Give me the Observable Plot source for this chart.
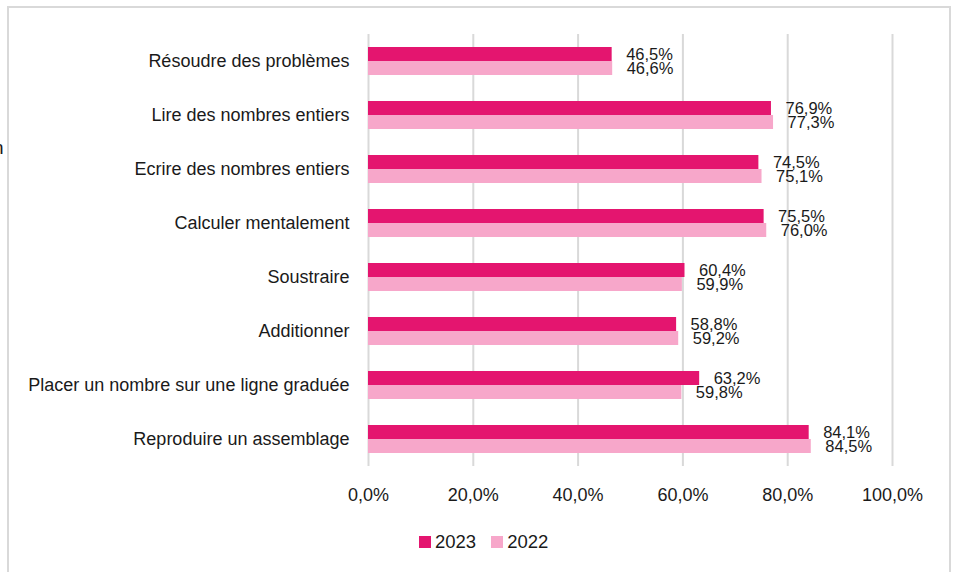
<!DOCTYPE html>
<html>
<head>
<meta charset="utf-8">
<script src="https://cdn.jsdelivr.net/npm/d3@7"></script>
<script src="https://cdn.jsdelivr.net/npm/@observablehq/plot@0.6"></script>
<style>
  html, body { margin: 0; padding: 0; background: #fff; overflow: hidden; }
  body { width: 954px; height: 572px; position: relative;
         font-family: "Liberation Sans", Arial, sans-serif; color: #1a1a1a; }
  #frame { position: absolute; left: 7px; top: 6px; width: 944px; height: 700px;
           border: 2px solid #d9d9d9; box-sizing: border-box; }
  #chart { position: absolute; left: 0; top: 0; }
  #stray { position: absolute; left: -7px; top: 137px; font-size: 19px; }
  #legend { position: absolute; left: 419px; top: 531px; display: flex; align-items: center; font-size: 18.5px; }
  .item { display: flex; align-items: center; margin-right: 15px; }
  .sw { width: 12px; height: 12px; margin-right: 4px; }
</style>
</head>
<body>
<div id="frame"></div>
<div id="stray">n</div>
<div id="chart"></div>
<div id="legend"></div>
<script>
const categories = [
  "Résoudre des problèmes",
  "Lire des nombres entiers",
  "Ecrire des nombres entiers",
  "Calculer mentalement",
  "Soustraire",
  "Additionner",
  "Placer un nombre sur une ligne graduée",
  "Reproduire un assemblage"
];
const values2023 = [46.5, 76.9, 74.5, 75.5, 60.4, 58.8, 63.2, 84.1];
const values2022 = [46.6, 77.3, 75.1, 76.0, 59.9, 59.2, 59.8, 84.5];
const years = ["2023", "2022"];
const colors = ["#E4156F", "#F7A7CA"];
const xTicks = [0, 20, 40, 60, 80, 100];

const fmt = d => d.toFixed(1).replace(".", ",") + "%";
const rows2023 = categories.map((c, i) => ({cat: c, year: "2023", value: values2023[i]}));
const rows2022 = categories.map((c, i) => ({cat: c, year: "2022", value: values2022[i]}));

const chart = Plot.plot({
  width: 954,
  height: 515,
  marginLeft: 368,
  marginRight: 62,
  marginTop: 34,
  marginBottom: 49,
  style: {
    fontFamily: '"Liberation Sans", Arial, sans-serif',
    fontSize: "18px",
    color: "#1a1a1a",
    background: "transparent",
    overflow: "visible"
  },
  x: {domain: [0, 100], ticks: xTicks, tickFormat: fmt, tickSize: 0, tickPadding: 22, label: null},
  y: {domain: categories, padding: 0, tickSize: 0, tickPadding: 19, label: null},
  marks: [
    Plot.ruleX(xTicks, {stroke: "#d9d9d9", strokeWidth: 2}),
    Plot.barX(rows2023, {x: "value", y: "cat", fill: colors[0], insetTop: 13, insetBottom: 27}),
    Plot.barX(rows2022, {x: "value", y: "cat", fill: colors[1], insetTop: 27, insetBottom: 13}),
    Plot.text(rows2023, {x: "value", y: "cat", text: d => fmt(d.value), dy: -7, dx: 14, textAnchor: "start", fontSize: 16.5, fill: "#1a1a1a"}),
    Plot.text(rows2022, {x: "value", y: "cat", text: d => fmt(d.value), dy: 7, dx: 14, textAnchor: "start", fontSize: 16.5, fill: "#1a1a1a"})
  ]
});
document.getElementById("chart").appendChild(chart);

const legend = document.getElementById("legend");
years.forEach((y, i) => {
  const item = document.createElement("div");
  item.className = "item";
  const sw = document.createElement("div");
  sw.className = "sw";
  sw.style.background = colors[i];
  const t = document.createElement("span");
  t.textContent = y;
  item.appendChild(sw);
  item.appendChild(t);
  legend.appendChild(item);
});
</script>
</body>
</html>
